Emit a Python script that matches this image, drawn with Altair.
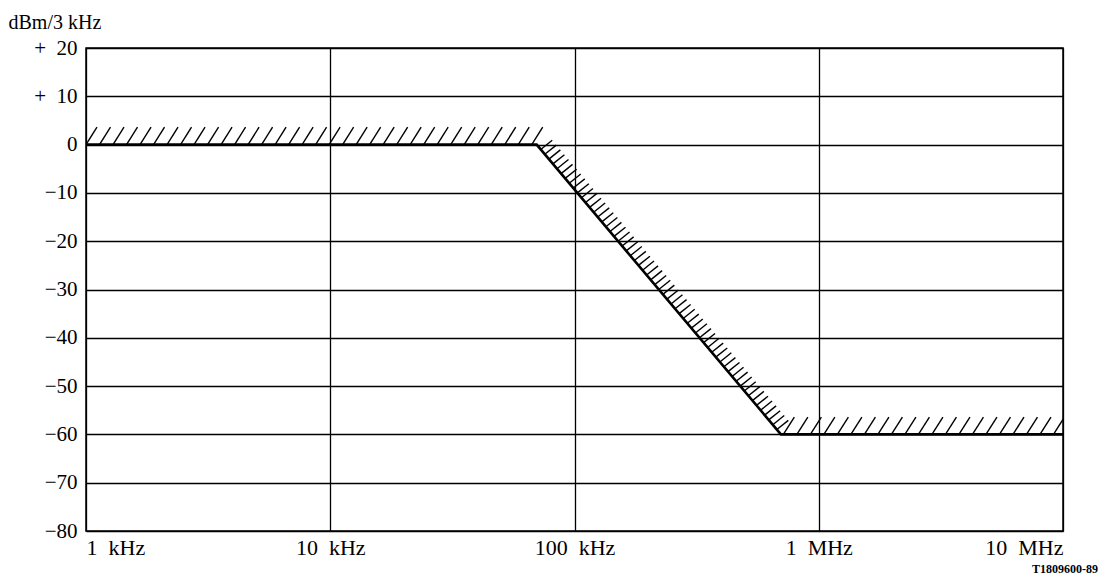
import altair as alt
import numpy as np
import pandas as pd

# Limit curve (break points)
freq = [1e3, 7e4, 7e5, 1e7]
level = [0, 0, -60, -60]

# Axes
x_ticks = [1e3, 1e4, 1e5, 1e6, 1e7]
x_labels = ["1\u2002kHz", "10\u2002kHz", "100\u2002kHz", "1\u2002MHz", "10\u2002MHz"]
y_ticks = [20, 10, 0, -10, -20, -30, -40, -50, -60, -70, -80]
y_labels = ["+\u200220", "+\u200210", "0", "\u221210", "\u221220", "\u221230", "\u221240",
            "\u221250", "\u221260", "\u221270", "\u221280"]
y_title = "dBm/3 kHz"
fig_id = "T1809600-89"

line_df = pd.DataFrame({"f": freq, "dB": level})

# Hatching (decoration derived from the curve)
lf = np.log10(freq)
step = 0.0553
flat1 = np.arange(lf[0], lf[1] - 0.01, step)
diag = lf[1] + (np.arange(1, 60) / 60.0) * (lf[2] - lf[1])
flat2 = np.arange(lf[2] + 0.01, lf[3] - 0.03, step)
rows = []
for s in flat1:
    rows.append((s, 0.0, s + 0.045, 3.6))
for s in diag:
    L = float(np.interp(s, lf, level))
    rows.append((s, L, s + 0.047, L + 1.9))
for s in flat2:
    rows.append((s, -60.0, s + 0.045, -56.4))
hatch_df = pd.DataFrame(rows, columns=["x0", "y0", "x1", "y1"])
hatch_df["f0"] = 10 ** hatch_df["x0"]
hatch_df["f1"] = 10 ** hatch_df["x1"]

xlab_expr = " : ".join(
    f"datum.value == {v:g} ? '{l}'" for v, l in zip(x_ticks, x_labels)) + " : ''"
ylab_expr = " : ".join(
    f"datum.value == {v} ? '{l}'" for v, l in zip(y_ticks, y_labels)) + " : ''"

xscale = alt.Scale(type="log", domain=[1e3, 1e7], nice=False)
yscale = alt.Scale(domain=[-80, 20], nice=False)

xaxis = alt.Axis(values=x_ticks, labelExpr=xlab_expr, grid=True, ticks=False,
                 domain=False, title=None, labelFlush=True, labelPadding=6,
                 labelFont="Liberation Serif", labelFontSize=22, labelColor="black",
                 gridColor="black", gridOpacity=1, gridWidth=1.3)
yaxis = alt.Axis(values=y_ticks, labelExpr=ylab_expr, grid=True, ticks=False,
                 domain=False, title=y_title, titleAngle=0, titleX=-78, titleY=-20,
                 titleAlign="left", titleBaseline="alphabetic",
                 titleFont="Liberation Serif", titleFontSize=20, titleFontWeight="normal",
                 titleColor="black", labelPadding=9,
                 labelFont="Liberation Serif", labelFontSize=21, labelColor="black",
                 gridColor="black", gridOpacity=1, gridWidth=1.3)

base_line = alt.Chart(line_df).mark_line(color="black", strokeWidth=2.6).encode(
    x=alt.X("f:Q", scale=xscale, axis=xaxis),
    y=alt.Y("dB:Q", scale=yscale, axis=yaxis),
)

hatch = alt.Chart(hatch_df).mark_rule(color="black", strokeWidth=1.4, clip=True).encode(
    x=alt.X("f0:Q", scale=xscale),
    x2="f1:Q",
    y=alt.Y("y0:Q", scale=yscale),
    y2="y1:Q",
)

label = alt.Chart(pd.DataFrame({"t": [fig_id]})).mark_text(
    align="right", baseline="alphabetic", font="Liberation Serif",
    fontSize=12, fontWeight="bold", color="black"
).encode(x=alt.value(1012), y=alt.value(525), text="t:N")

chart = alt.layer(hatch, base_line, label).properties(
    width=977, height=483,
    autosize=alt.AutoSizeParams(type="none"),
    padding={"left": 78, "top": 40, "right": 40, "bottom": 47},
    background="white",
).configure_view(stroke="black", strokeWidth=1.5)

chart.save("out.html", embed_options={"renderer": "svg", "actions": False})
